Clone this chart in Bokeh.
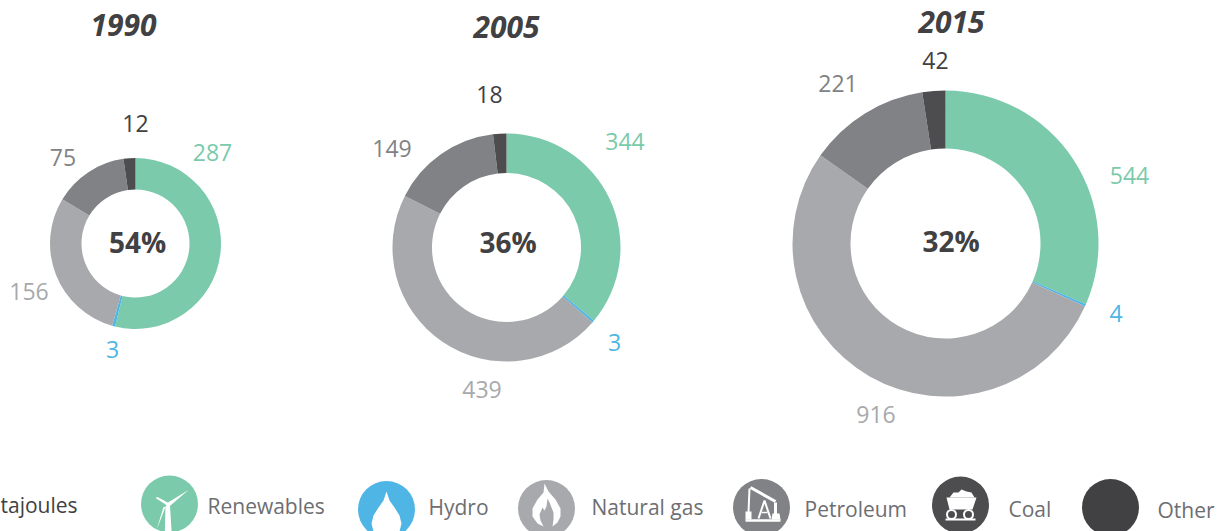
import math
from bokeh.plotting import figure
from bokeh.models import Range1d
from bokeh.core.properties import value
from bokeh.embed import file_html
from bokeh.resources import INLINE

W, H = 1225, 531
FONT = "Open Sans"

years = ["1990", "2005", "2015"]
shares = ["54%", "36%", "32%"]
series = ["Renewables", "Hydro", "Natural gas", "Petroleum", "Coal", "Other"]
renewables = [287, 344, 544]
hydro = [3, 3, 4]
natural_gas = [156, 439, 916]
petroleum = [75, 149, 221]
other = [12, 18, 42]
unit_label = "tajoules"

GREEN, BLUE, GAS, PET, COAL, OTHER = "#7ACAAB", "#4FB5E5", "#A7A9AC", "#808285", "#4D4D4F", "#414042"
ring_series = [renewables, hydro, natural_gas, petroleum, other]
ring_colors = [GREEN, BLUE, GAS, PET, COAL]
ring_text = [GREEN, BLUE, GAS, PET, OTHER]

# layout per donut: centre x, centre y, outer r, inner r
rings = [(135, 243, 85.5, 54), (506, 247, 114, 74.5), (945, 243, 153, 95)]
title_pos = [(123, 24), (506, 26), (951, 21)]
share_pos = [(137, 241.5), (507.5, 241.5), (950.5, 240.5)]
label_pos = [
    [(212, 152), (112, 349), (28.5, 291), (62.5, 157), (135, 123)],
    [(624.5, 141), (614, 342), (481.5, 389), (391.5, 148), (489, 94)],
    [(1129, 175), (1115.5, 313), (875.5, 414), (837.5, 83), (935, 60)],
]

p = figure(width=W, height=H, x_range=Range1d(0, W), y_range=Range1d(0, H),
           output_backend="svg", toolbar_location=None, min_border=0,
           x_axis_location=None, y_axis_location=None,
           background_fill_color="white", border_fill_color="white", outline_line_color=None)
p.grid.visible = False


def Y(y):
    return H - y


def label(x, y, s, size, color, style="normal", align="center"):
    p.text([x], [Y(y)], text=[s], text_font=value(FONT), text_font_size=f"{size}px",
           text_font_style=style, text_color=color, text_align=align, text_baseline="middle")


for i, (cx, cy, ro, ri) in enumerate(rings):
    vals = [s[i] for s in ring_series]
    total = sum(vals)
    cum = 0
    for j, v in enumerate(vals):
        a0 = math.pi / 2 - 2 * math.pi * cum / total
        a1 = math.pi / 2 - 2 * math.pi * (cum + v) / total
        p.annular_wedge([cx], [Y(cy)], inner_radius=ri, outer_radius=ro, start_angle=a1, end_angle=a0,
                        fill_color=ring_colors[j], line_color=None)
        cum += v
        lx, ly = label_pos[i][j]
        label(lx, ly, str(v), 23, ring_text[j])
    label(*title_pos[i], years[i], 30, "#414042", "bold italic")
    label(*share_pos[i], shares[i], 28, "#414042", "bold")

# legend
legend_c = [(169, 503.5, GREEN), (386, 509, BLUE), (546, 508, GAS), (761, 507, PET), (960, 504.5, COAL), (1110, 507, OTHER)]
legend_t = [(207, 505), (428, 506), (591, 506), (804, 508), (1008, 508), (1157, 509)]
for (cx, cy, c), (tx, ty), s in zip(legend_c, legend_t, series):
    p.circle([cx], [Y(cy)], radius=28.5, fill_color=c, line_color=None)
    label(tx, ty, s, 21, "#6D6E71", align="left")
label(0, 504, unit_label, 21, "#414042", align="left")


def shape(c, pts, color="white"):
    cx, cy = c
    p.patch([cx + a for a, b in pts], [Y(cy + b) for a, b in pts], fill_color=color, line_color=None)


def stroke(c, pts, width=1.5, color="white"):
    cx, cy = c
    p.line([cx + a for a, b in pts], [Y(cy + b) for a, b in pts], line_color=color, line_width=width)


# wind turbine
c = legend_c[0][:2]
shape(c, [(-4, 2), (-1, 2), (0.5, 2), (3, 42), (-5, 42)])
shape(c, [(-4, 0), (19, -14), (-2, 4)])
shape(c, [(-3, 1), (-14, -6), (-12, -7), (-1, -1)])
shape(c, [(-4, 3), (-13, 26), (-6, 3)])

# water drop
c = legend_c[1][:2]
drop = [(0, -18), (3, -9), (8, -2), (13, 6), (15, 14), (13, 22), (8, 27), (0, 30), (-8, 27), (-13, 22), (-15, 14), (-13, 6), (-8, -2), (-3, -9)]
shape(c, drop)

# flame
c = legend_c[2][:2]
shape(c, [(-2, -25), (2, -17), (9, -9), (14, 0), (14, 8), (11, 14), (6, 18), (7, 11), (7, 4), (3, -6), (1, -10),
          (0, -2), (-2, 2), (-4, -1), (-7, 6), (-6, 12), (-3, 18), (-9, 15), (-14, 8), (-14, 0), (-9, -9), (-3, -16)])

# pump jack
c = legend_c[3][:2]
stroke(c, [(-11, -20), (14, -6)], 3)
stroke(c, [(-12, -19), (-13, 5)], 2)
shape(c, [(-16, 4), (-10, 4), (-10, 12), (-16, 12)])
stroke(c, [(-3, 11), (3, -7), (9, 11)], 2)
stroke(c, [(0, 5), (6, 5)], 1.5)
stroke(c, [(14, -5), (14, 7)], 3)
shape(c, [(11, 6), (18, 6), (19, 12), (10, 12)])
stroke(c, [(-16, 13), (19, 13)], 2.5)

# coal cart
c = legend_c[4][:2]
shape(c, [(-14, -7.5), (16, -7.5), (12, 4.5), (-11, 4.5)])
shape(c, [(-11, -7.5), (-7, -12.5), (-2, -12.5), (1, -15.5), (6, -13.5), (11, -12.5), (14, -7.5)])
stroke(c, [(-15, 14.5), (15, 14.5)], 2)
p.circle([c[0] - 9, c[0] + 8], [Y(c[1] + 9.5)] * 2, radius=4.5, fill_color=COAL, line_color="white", line_width=2)

html = file_html(p, INLINE)
html = html.replace("<head>", "<head><style>html,body{margin:0;padding:0;overflow:hidden}</style>", 1)
open("out.html", "w").write(html)
